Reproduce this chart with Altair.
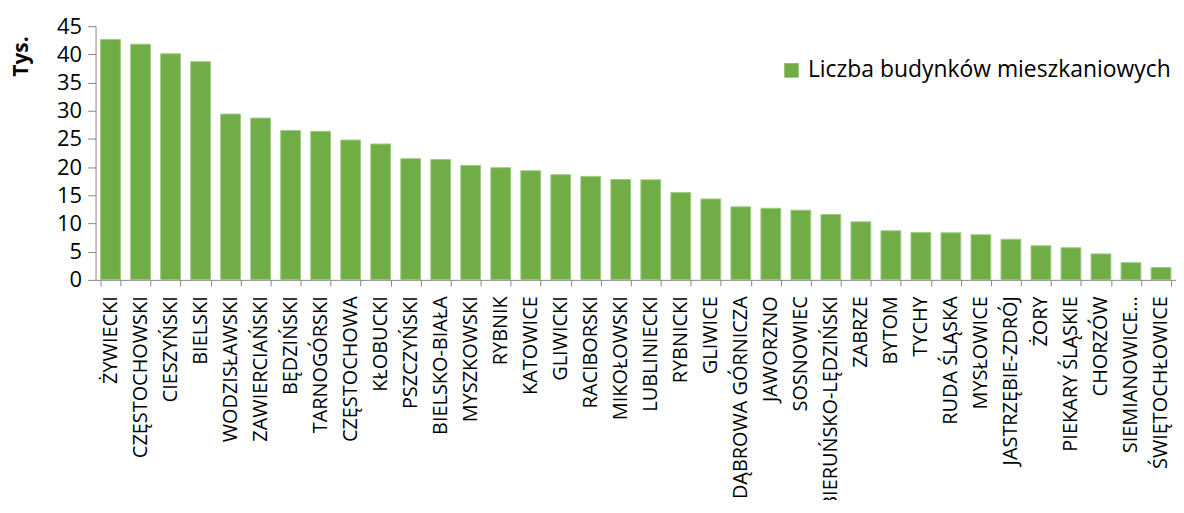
import altair as alt
import pandas as pd

categories = [
    "ŻYWIECKI", "CZĘSTOCHOWSKI", "CIESZYŃSKI", "BIELSKI", "WODZISŁAWSKI",
    "ZAWIERCIAŃSKI", "BĘDZIŃSKI", "TARNOGÓRSKI", "CZĘSTOCHOWA", "KŁOBUCKI",
    "PSZCZYŃSKI", "BIELSKO-BIAŁA", "MYSZKOWSKI", "RYBNIK", "KATOWICE",
    "GLIWICKI", "RACIBORSKI", "MIKOŁOWSKI", "LUBLINIECKI", "RYBNICKI",
    "GLIWICE", "DĄBROWA GÓRNICZA", "JAWORZNO", "SOSNOWIEC", "BIERUŃSKO-LĘDZIŃSKI",
    "ZABRZE", "BYTOM", "TYCHY", "RUDA ŚLĄSKA", "MYSŁOWICE",
    "JASTRZĘBIE-ZDRÓJ", "ŻORY", "PIEKARY ŚLĄSKIE", "CHORZÓW", "SIEMIANOWICE…",
    "ŚWIĘTOCHŁOWICE",
]
values = [
    42.65, 41.8, 40.1, 38.7, 29.4,
    28.7, 26.5, 26.35, 24.8, 24.1,
    21.5, 21.35, 20.3, 19.9, 19.35,
    18.65, 18.35, 17.8, 17.75, 15.5,
    14.35, 12.95, 12.7, 12.35, 11.6,
    10.3, 8.7, 8.4, 8.35, 8.0,
    7.2, 6.05, 5.7, 4.6, 3.05,
    2.2,
]
series_name = "Liczba budynków mieszkaniowych"

df = pd.DataFrame({"powiat": categories, "value": values, "series": series_name})

FONT = "Open Sans"
GREEN = "#70AD47"
AXIS = "#868686"

chart = (
    alt.Chart(df)
    .mark_bar(stroke="#9FCB83", strokeWidth=1)
    .encode(
        x=alt.X(
            "powiat:N",
            sort=categories,
            scale=alt.Scale(paddingInner=0.34, paddingOuter=0.17),
            axis=alt.Axis(
                title=None,
                labelAngle=-90,
                labelFont=FONT,
                labelFontSize=20,
                labelColor="#000000",
                labelPadding=10,
                tickBand="extent",
                tickSize=6,
                tickColor=AXIS,
                domainColor=AXIS,
                labelLimit=400,
            ),
        ),
        y=alt.Y(
            "value:Q",
            scale=alt.Scale(domain=[0, 45], nice=False),
            axis=alt.Axis(
                title="Tys.",
                values=list(range(0, 50, 5)),
                grid=False,
                labelFont=FONT,
                labelFontSize=22,
                labelColor="#000000",
                labelPadding=6,
                tickSize=8,
                tickColor=AXIS,
                domainColor=AXIS,
                titleFont=FONT,
                titleFontSize=21,
                titleFontWeight="bold",
                titleColor="#000000",
                titleAngle=-90,
                titleAlign="center",
                titleBaseline="middle",
                titleX=-74,
                titleY=30,
            ),
        ),
        color=alt.Color(
            "series:N",
            scale=alt.Scale(domain=[series_name], range=[GREEN]),
            legend=alt.Legend(
                title=None,
                orient="none",
                legendX=688,
                legendY=33,
                symbolType="square",
                symbolSize=210,
                symbolStrokeWidth=0,
                labelFont=FONT,
                labelFontSize=23,
                labelColor="#000000",
                labelLimit=700,
                labelOffset=5,
            ),
        ),
    )
    .properties(
        width=1086,
        height=255,
        autosize=alt.AutoSizeParams(type="none"),
        padding={"left": 88, "top": 17, "right": 0, "bottom": 220},
    )
    .configure_view(stroke=None)
)

chart.save("out.html", embed_options={"renderer": "svg", "actions": False})
